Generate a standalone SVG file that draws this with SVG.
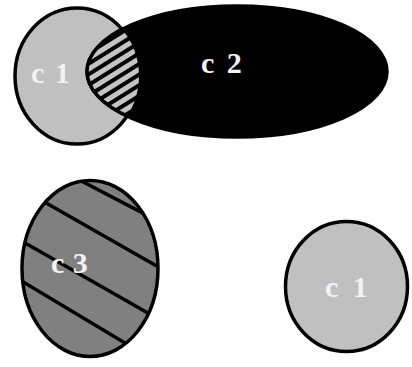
<svg xmlns="http://www.w3.org/2000/svg" width="412" height="367" viewBox="0 0 412 367">
  <style>
    .outline { stroke: #000; stroke-width: 3.5; }
    .lbl { font-family: "Liberation Serif", "Times New Roman", serif; font-weight: bold; font-size: 30px; fill: #f2f2f2; }
    .stripe { stroke: #000; stroke-width: 3.5; }
  </style>
  <defs>
    <pattern id="hatch" patternUnits="userSpaceOnUse" width="9" height="9" patternTransform="rotate(-32)">
      <rect width="9" height="9" fill="#c4c4c4"/>
      <rect y="0" width="9" height="4" fill="#000"/>
    </pattern>
    <clipPath id="clipC1">
      <ellipse cx="77" cy="76" rx="62" ry="68"/>
    </clipPath>
    <clipPath id="clipC3">
      <ellipse cx="90" cy="268.5" rx="68" ry="88"/>
    </clipPath>
  </defs>
  <rect width="412" height="367" fill="#fff"/>

  <g id="c1-top">
    <ellipse cx="77" cy="76" rx="62" ry="68" fill="#c0c0c0" class="outline"/>
    <text class="lbl" x="31" y="83" style="word-spacing:3px">c 1</text>
  </g>

  <g id="c2">
    <ellipse cx="237" cy="71.5" rx="150" ry="65.5" fill="#000" class="outline"/>
    <text class="lbl" x="201" y="73" style="word-spacing:5px">c 2</text>
  </g>

  <g id="c1-c2-overlap">
    <g clip-path="url(#clipC1)">
      <ellipse cx="237" cy="71.5" rx="150" ry="65.5" fill="url(#hatch)" class="outline"/>
    </g>
  </g>

  <g id="c3">
    <ellipse cx="90" cy="268.5" rx="68" ry="88" fill="#808080"/>
    <g clip-path="url(#clipC3)">
      <line class="stripe" x1="20" y1="149" x2="160" y2="222"/>
      <line class="stripe" x1="20" y1="188" x2="160" y2="268"/>
      <line class="stripe" x1="20" y1="240" x2="160" y2="320"/>
      <line class="stripe" x1="20" y1="280" x2="160" y2="364"/>
      <line class="stripe" x1="20" y1="325" x2="160" y2="405"/>
    </g>
    <ellipse cx="90" cy="268.5" rx="68" ry="88" fill="none" class="outline"/>
    <text class="lbl" x="51" y="273" style="word-spacing:1px">c 3</text>
  </g>

  <g id="c1-bottom">
    <ellipse cx="346.5" cy="286.5" rx="61" ry="65" fill="#c0c0c0" class="outline"/>
    <text class="lbl" x="325" y="297" style="word-spacing:7px">c 1</text>
  </g>

  <g id="connectors"/>
</svg>
